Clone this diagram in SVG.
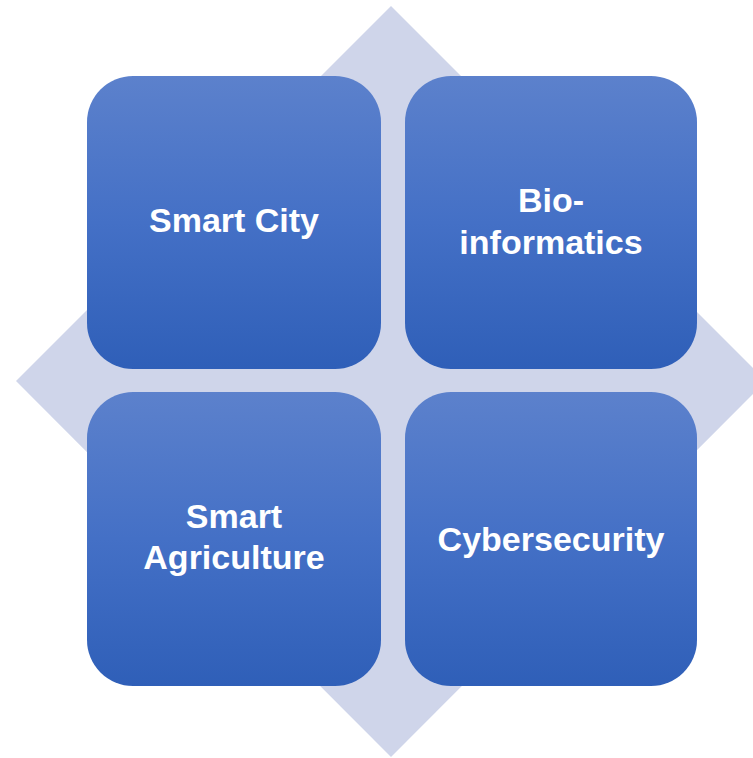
<svg xmlns="http://www.w3.org/2000/svg" width="753" height="758" viewBox="0 0 753 758">
  <defs>
    <linearGradient id="g" x1="0" y1="0" x2="0" y2="1">
      <stop offset="0" stop-color="#5c81cc"/>
      <stop offset="0.5" stop-color="#4470c6"/>
      <stop offset="1" stop-color="#2f5fb8"/>
    </linearGradient>
    <style>
      .box { fill: url(#g); }
      .lbl { font-family: "Liberation Sans", Arial, sans-serif; font-weight: bold; font-size: 34px; fill: #ffffff; text-anchor: middle; }
    </style>
  </defs>
  <rect width="753" height="758" fill="#ffffff"/>
  <polygon id="diamond" points="391,6 766,381 391,757 16,381" fill="#cfd5ea"/>
  <g id="connectors"/>
  <g id="smart-city">
    <rect class="box" x="87" y="76" width="294" height="293" rx="46" ry="46"/>
    <text class="lbl" x="234" y="232">Smart City</text>
  </g>
  <g id="bioinformatics">
    <rect class="box" x="405" y="76" width="292" height="293" rx="46" ry="46"/>
    <text class="lbl" x="551" y="212">Bio-</text>
    <text class="lbl" x="551" y="254">informatics</text>
  </g>
  <g id="smart-agriculture">
    <rect class="box" x="87" y="392" width="294" height="294" rx="46" ry="46"/>
    <text class="lbl" x="234" y="528">Smart</text>
    <text class="lbl" x="234" y="569">Agriculture</text>
  </g>
  <g id="cybersecurity">
    <rect class="box" x="405" y="392" width="292" height="294" rx="46" ry="46"/>
    <text class="lbl" x="551" y="551">Cybersecurity</text>
  </g>
</svg>
